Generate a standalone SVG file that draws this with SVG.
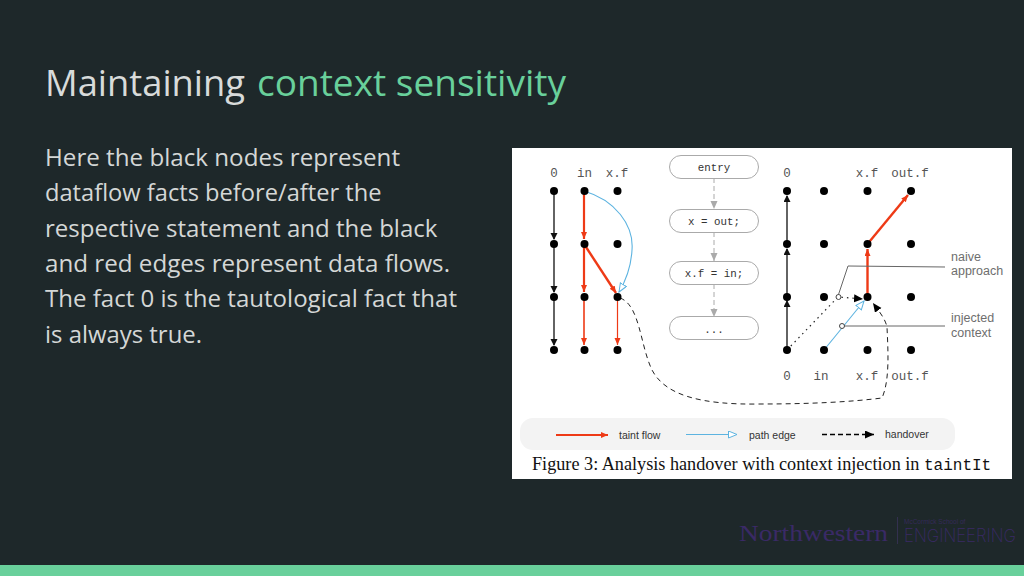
<svg xmlns="http://www.w3.org/2000/svg" width="1024" height="576" viewBox="0 0 1024 576">
<style>
.body{font:24.5px "Open Sans",sans-serif;fill:#d4d7d6}
.title{font:36.500px "Open Sans",sans-serif;fill:#d8dbda}
.mono{font:12.500px "Liberation Mono",monospace;fill:#555}
.stmt{font:10.800px "Liberation Mono",monospace;fill:#333}
.sans{font:12.500px "Liberation Sans",sans-serif;fill:#6e6e6e}
.leg{font:10.500px "Liberation Sans",sans-serif;fill:#333}
.box{fill:#fff;stroke:#aaa;stroke-width:1}
.flow{stroke:#aaa;stroke-width:1;stroke-dasharray:5 3;fill:none;marker-end:url(#ag)}
.dot{fill:#000}
.blk{stroke:#222;stroke-width:1.4;fill:none;marker-end:url(#ak)}
.red{stroke:#ee3a16;fill:none;marker-end:url(#ar)}
.blu{stroke:#5cb3e0;stroke-width:1.1;fill:none;marker-end:url(#ab)}
.lead{stroke:#666;stroke-width:1;fill:none}
</style>
<defs>
<marker id="ak" markerUnits="userSpaceOnUse" markerWidth="7" markerHeight="9" refX="6" refY="3.5" orient="auto"><path d="M0 0L7 3.5L0 7z" fill="#111"/></marker>
<marker id="ar" markerUnits="userSpaceOnUse" markerWidth="8" markerHeight="8" refX="7" refY="3" orient="auto"><path d="M0 0L7 3L0 6z" fill="#ee3a16"/></marker>
<marker id="ag" markerUnits="userSpaceOnUse" markerWidth="9" markerHeight="8" refX="8" refY="3.5" orient="auto"><path d="M0 0L8 3.5L0 7z" fill="#aaa"/></marker>
<marker id="ab" markerUnits="userSpaceOnUse" markerWidth="10" markerHeight="9" refX="9" refY="4" orient="auto"><path d="M0.5 0.500L9 4L0.5 7.500z" fill="#fff" stroke="#5cb3e0"/></marker>
<marker id="ah" markerUnits="userSpaceOnUse" markerWidth="10" markerHeight="9" refX="9" refY="4" orient="auto"><path d="M0 0L9 4L0 8z" fill="#000"/></marker>
</defs>
<rect width="1024" height="576" fill="#1e282a"/>
<rect y="565" width="1024" height="11" fill="#69d09b"/>
<g id="title" class="title">
<text x="45" y="96" textLength="200" lengthAdjust="spacingAndGlyphs">Maintaining</text>
<text x="257" y="96" textLength="309" lengthAdjust="spacingAndGlyphs" style="fill:#69d09b">context sensitivity</text>
</g>
<g id="body" class="body">
<text x="45" y="166" textLength="355" lengthAdjust="spacingAndGlyphs">Here the black nodes represent</text>
<text x="45" y="201" textLength="336.500" lengthAdjust="spacingAndGlyphs">dataflow facts before/after the</text>
<text x="45" y="237" textLength="392.500" lengthAdjust="spacingAndGlyphs">respective statement and the black</text>
<text x="45" y="272" textLength="405" lengthAdjust="spacingAndGlyphs">and red edges represent data flows.</text>
<text x="45" y="307" textLength="412" lengthAdjust="spacingAndGlyphs">The fact 0 is the tautological fact that</text>
<text x="45" y="343" textLength="157" lengthAdjust="spacingAndGlyphs">is always true.</text>
</g>
<rect x="512" y="148" width="500" height="331" fill="#fff"/>
<rect x="520" y="418" width="435" height="32" rx="13" fill="#f3f3f3"/>
<g id="connectors">
<path class="flow" d="M714 178V209"/><path class="flow" d="M714 232V261"/><path class="flow" d="M714 284V317"/>
<path class="blk" d="M554 191V239"/><path class="blk" d="M554 244V292"/><path class="blk" d="M554 297V345"/>
<path class="red" stroke-width="2.2" d="M584 191V239"/><path class="red" stroke-width="2.2" d="M584 244V292"/><path class="red" stroke-width="1.6" d="M584 297V345"/><path class="red" stroke-width="1.2" d="M617.500 297V345"/>
<path class="red" stroke-width="2.4" d="M584 244L616 293"/>
<path class="blu" d="M584 191C615 200 634 225 632 250C631 268 625 282 619 292"/>
<path d="M620 298C640 305 640 345 652 370C665 395 700 405 760 404C810 404 850 402 882 398C890 380 888 350 887 327C885 318 878 310 873 303" fill="none" stroke="#222" stroke-dasharray="5 4" marker-end="url(#ah)"/>
<path class="blk" d="M787 350V301"/><path class="blk" d="M787 297V249"/><path class="blk" d="M787 244V196"/>
<path class="red" stroke-width="2.4" d="M867.500 297V249"/><path class="red" stroke-width="2.4" d="M867.500 244L908 195"/>
<path d="M787 350L838 297L863 299" fill="none" stroke="#222" stroke-width="1.2" stroke-dasharray="1.500 4" marker-end="url(#ah)"/>
<path class="blu" d="M824 350L864 301"/>
<path class="lead" d="M838 296L848 266L945 267"/><path class="lead" d="M842 326L945 326"/>
<circle cx="838.500" cy="297" r="2.500" fill="#fff" stroke="#444"/><circle cx="842" cy="326" r="2.500" fill="#fff" stroke="#444"/>
</g>
<g id="nodes-left" class="dot">
<circle cx="554" cy="191" r="4"/><circle cx="584.500" cy="191" r="4"/><circle cx="617.500" cy="191" r="4"/>
<circle cx="554" cy="244" r="4"/><circle cx="584.500" cy="244" r="4"/><circle cx="617.500" cy="244" r="4"/>
<circle cx="554" cy="297" r="4"/><circle cx="584.500" cy="297" r="4"/><circle cx="617.500" cy="297" r="4"/>
<circle cx="554" cy="350" r="4"/><circle cx="584.500" cy="350" r="4"/><circle cx="617.500" cy="350" r="4"/>
</g>
<g id="nodes-right" class="dot">
<circle cx="787" cy="191" r="4"/><circle cx="824" cy="191" r="4"/><circle cx="867.500" cy="191" r="4"/><circle cx="911" cy="191" r="4"/>
<circle cx="787" cy="244" r="4"/><circle cx="824" cy="244" r="4"/><circle cx="867.500" cy="244" r="4"/><circle cx="911" cy="244" r="4"/>
<circle cx="787" cy="297" r="4"/><circle cx="824" cy="297" r="4"/><circle cx="867.500" cy="297" r="4"/><circle cx="911" cy="297" r="4"/>
<circle cx="787" cy="350" r="4"/><circle cx="824" cy="350" r="4"/><circle cx="867.500" cy="350" r="4"/><circle cx="911" cy="350" r="4"/>
</g>
<g id="labels" class="mono">
<text x="554" y="177" text-anchor="middle">0</text><text x="584.500" y="177" text-anchor="middle">in</text><text x="617" y="177" text-anchor="middle">x.f</text>
<text x="787" y="177" text-anchor="middle">0</text><text x="867" y="177" text-anchor="middle">x.f</text><text x="910" y="177" text-anchor="middle">out.f</text>
<text x="787" y="380" text-anchor="middle">0</text><text x="821" y="380" text-anchor="middle">in</text><text x="867" y="380" text-anchor="middle">x.f</text><text x="910" y="380" text-anchor="middle">out.f</text>
</g>
<g id="stmt-entry"><rect class="box" x="669.500" y="155.500" width="89" height="23" rx="11.500"/><text class="stmt" x="714" y="171" text-anchor="middle">entry</text></g>
<g id="stmt-x-out"><rect class="box" x="669.500" y="209.500" width="89" height="23" rx="11.500"/><text class="stmt" x="714" y="225" text-anchor="middle">x = out;</text></g>
<g id="stmt-xf-in"><rect class="box" x="669.500" y="261.500" width="89" height="23" rx="11.500"/><text class="stmt" x="714" y="277" text-anchor="middle">x.f = in;</text></g>
<g id="stmt-dots"><rect class="box" x="669.500" y="316.500" width="89" height="23" rx="11.500"/><text class="stmt" x="714" y="333" text-anchor="middle">...</text></g>
<g id="notes" class="sans">
<text x="951" y="261">naive</text><text x="951" y="275">approach</text>
<text x="951" y="322">injected</text><text x="951" y="337">context</text>
</g>
<g id="legend">
<path d="M556 435H608" stroke="#ee3a16" stroke-width="2" marker-end="url(#ar)"/>
<text class="leg" x="619" y="439">taint flow</text>
<path d="M686 434.500H737" stroke="#5cb3e0" stroke-width="1" marker-end="url(#ab)"/>
<text class="leg" x="749" y="439">path edge</text>
<path d="M822 434.500H874" stroke="#000" stroke-width="1.400" stroke-dasharray="5 3" marker-end="url(#ah)"/>
<text class="leg" x="885" y="438">handover</text>
</g>
<text id="caption" x="532" y="470" font-family="Liberation Serif,serif" font-size="18.200" fill="#111">Figure 3: Analysis handover with context injection in <tspan font-family="Liberation Mono,monospace" font-size="16">taintIt</tspan></text>
<g id="logo" fill="#3a2a66">
<text x="739" y="541" font-family="Liberation Serif,serif" font-size="24" textLength="149" lengthAdjust="spacingAndGlyphs">Northwestern</text>
<rect x="897" y="517" width="1" height="27" fill="#33304f"/>
<text x="904" y="524" font-family="Liberation Sans,sans-serif" font-size="6.500" fill="#352a58">McCormick School of</text>
<text x="904" y="542" font-family="Inter,sans-serif" font-weight="200" font-size="18" textLength="112" lengthAdjust="spacingAndGlyphs">ENGINEERING</text>
</g>
</svg>
